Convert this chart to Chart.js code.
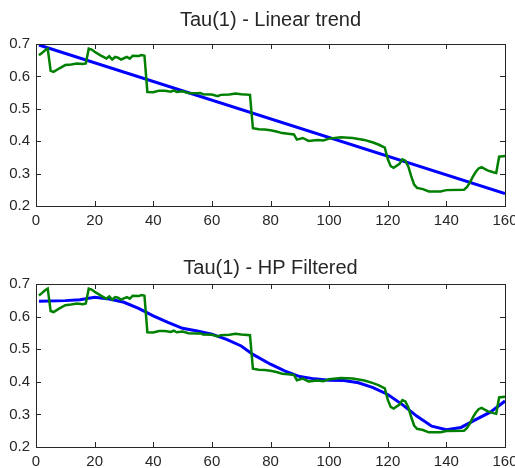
<!DOCTYPE html>
<html>
<head>
<meta charset="utf-8">
<script src="https://cdn.jsdelivr.net/npm/chart.js@4/dist/chart.umd.min.js"></script>
<style>
  html, body { margin: 0; padding: 0; background: #fff; }
  .box { position: absolute; left: 0; width: 515px; height: 234px; }
  #top { top: 0; }
  #bottom { top: 234px; }
</style>
</head>
<body>
<div class="box" id="top"><canvas id="trendChart"></canvas></div>
<div class="box" id="bottom"><canvas id="hpChart"></canvas></div>
<script>
// Tau(1) data
const tauX = [1, 2, 3, 4, 5, 6, 8, 10, 12, 14, 16, 17, 18, 19, 20, 22, 23, 24, 25, 26, 27, 28, 29, 30, 31, 32, 33, 35, 36, 37,
    38, 40, 42, 44, 46, 47, 48, 50, 52, 55, 56, 57, 60, 62, 63, 66, 68, 70, 73,
    74, 76, 78, 80, 82, 84, 86, 88, 89, 91, 93, 96, 98, 100, 104, 108, 112, 115, 117, 119,
    120, 121, 122, 124, 125, 126, 127, 128, 129, 130, 132, 134, 138, 140, 146, 147, 148, 149, 150, 151, 152, 154, 156, 157, 158, 160];
const tauY = [0.665, 0.672, 0.68, 0.686, 0.617, 0.614, 0.625, 0.635, 0.637, 0.64, 0.638, 0.64, 0.686, 0.683, 0.676, 0.665, 0.66, 0.655, 0.662, 0.652, 0.66, 0.658, 0.652, 0.656, 0.66, 0.655, 0.664, 0.663, 0.666, 0.664,
    0.552, 0.551, 0.556, 0.556, 0.553, 0.557, 0.552, 0.554, 0.549, 0.548, 0.549, 0.545, 0.544, 0.539, 0.543, 0.544, 0.547, 0.545, 0.543,
    0.44, 0.437, 0.436, 0.434, 0.43, 0.425, 0.423, 0.421, 0.405, 0.41, 0.401, 0.404, 0.402, 0.408, 0.412, 0.41, 0.404, 0.396, 0.389, 0.38,
    0.345, 0.323, 0.318, 0.33, 0.344, 0.34, 0.322, 0.292, 0.266, 0.256, 0.252, 0.245, 0.245, 0.249, 0.25, 0.258, 0.272, 0.29, 0.305, 0.316, 0.32, 0.31, 0.304, 0.302, 0.352, 0.354];

// Linear trend (straight line, two ends)
const trendX = [1, 160];
const trendY = [0.697, 0.238];

// HP filtered trend
const hpX = [1, 10, 15, 20, 25, 30, 35, 40, 45, 50, 55, 60, 65, 70, 74, 80, 85, 90, 95, 100, 105, 110, 115, 120, 125, 130, 135, 140, 145, 150, 155, 160];
const hpY = [0.647, 0.649, 0.652, 0.659, 0.654, 0.644, 0.625, 0.602, 0.582, 0.564, 0.556, 0.546, 0.53, 0.51, 0.484, 0.454, 0.433, 0.416, 0.409, 0.405, 0.404, 0.397, 0.382, 0.361, 0.33, 0.294, 0.264, 0.253, 0.26, 0.284, 0.307, 0.341];

const xTicks = [0, 20, 40, 60, 80, 100, 120, 140, 160];
const yTicks = [0.2, 0.3, 0.4, 0.5, 0.6, 0.7];

const textColor = '#262626';
const fontFamily = '"Liberation Sans", Arial, sans-serif';

function toPoints(xs, ys) {
    return xs.map((x, i) => ({ x: x, y: ys[i] }));
}

// MATLAB style box with inward tick marks, title centred over the axes
const boxPlugin = {
    id: 'matlabBox',
    afterDatasetsDraw(chart, args, opts) {
        const { ctx, chartArea: a, scales } = chart;
        ctx.save();
        ctx.strokeStyle = textColor;
        ctx.lineWidth = 1;
        ctx.beginPath();
        scales.x.ticks.forEach(t => {
            const px = Math.round(scales.x.getPixelForValue(t.value)) + 0.5;
            ctx.moveTo(px, a.bottom); ctx.lineTo(px, a.bottom - 5);
            ctx.moveTo(px, a.top); ctx.lineTo(px, a.top + 5);
        });
        scales.y.ticks.forEach(t => {
            const py = Math.round(scales.y.getPixelForValue(t.value)) + 0.5;
            ctx.moveTo(a.left, py); ctx.lineTo(a.left + 5, py);
            ctx.moveTo(a.right, py); ctx.lineTo(a.right - 5, py);
        });
        ctx.stroke();
        ctx.strokeRect(Math.round(a.left) + 0.5, Math.round(a.top) + 0.5,
            Math.round(a.right - a.left), Math.round(a.bottom - a.top));

        ctx.fillStyle = textColor;
        ctx.font = '20px ' + fontFamily;
        ctx.textAlign = 'center';
        ctx.textBaseline = 'middle';
        ctx.fillText(opts.text, (a.left + a.right) / 2, opts.y);
        ctx.restore();
    }
};

function makeChart(canvasId, title, trendPts, topPad, titleY, xHeight) {
    const ctx = document.getElementById(canvasId).getContext('2d');
    return new Chart(ctx, {
        type: 'line',
        data: {
            datasets: [
                {
                    label: 'Tau(1)',
                    data: toPoints(tauX, tauY),
                    borderColor: '#008000',
                    borderWidth: 2.5,
                    pointRadius: 0,
                    tension: 0
                },
                {
                    label: 'Trend',
                    data: trendPts,
                    borderColor: '#0000ff',
                    borderWidth: 3,
                    pointRadius: 0,
                    tension: 0
                }
            ]
        },
        options: {
            responsive: true,
            maintainAspectRatio: false,
            animation: false,
            layout: { padding: { left: 0, right: 10, top: topPad, bottom: 0 } },
            plugins: {
                legend: { display: false },
                tooltip: { enabled: false },
                title: { display: false },
                matlabBox: { text: title, y: titleY }
            },
            scales: {
                x: {
                    type: 'linear',
                    min: 0, max: 160,
                    afterBuildTicks: s => { s.ticks = xTicks.map(v => ({ value: v })); },
                    afterFit: s => { s.paddingLeft = 0; s.paddingRight = 0; s.height = xHeight; },
                    grid: { display: false, drawTicks: false },
                    border: { display: false },
                    ticks: { color: textColor, font: { family: fontFamily, size: 15 }, padding: 6, maxRotation: 0 }
                },
                y: {
                    type: 'linear',
                    min: 0.2, max: 0.7,
                    afterBuildTicks: s => { s.ticks = yTicks.map(v => ({ value: v })); },
                    afterFit: s => { s.width = 36; s.paddingTop = 0; s.paddingBottom = 0; },
                    grid: { display: false, drawTicks: false },
                    border: { display: false },
                    ticks: { color: textColor, font: { family: fontFamily, size: 15 }, padding: 6,
                        callback: v => v.toFixed(1) }
                }
            }
        },
        plugins: [boxPlugin]
    });
}

makeChart('trendChart', 'Tau(1) - Linear trend', toPoints(trendX, trendY), 44, 20, 28);
makeChart('hpChart', 'Tau(1) - HP Filtered', toPoints(hpX, hpY), 50, 34, 21);
</script>
</body>
</html>
